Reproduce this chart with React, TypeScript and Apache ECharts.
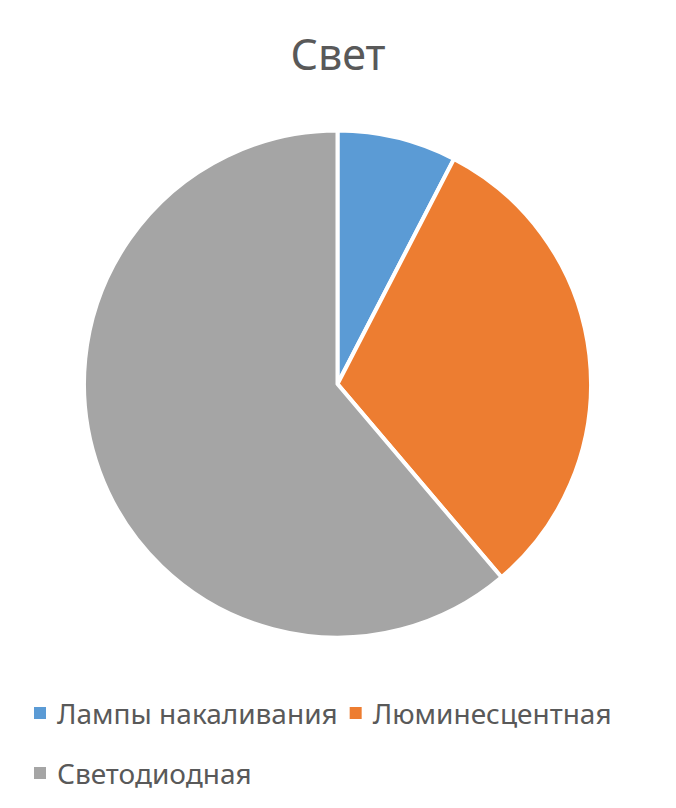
import React, { useEffect, useRef } from "react";
import * as echarts from "echarts";

const titleText = "Свет";
const categories = ["Лампы накаливания", "Люминесцентная", "Светодиодная"];
const values = [7.6, 31.2, 61.2];
const colors = ["#5B9BD5", "#ED7D31", "#A5A5A5"];

export default function App() {
  const ref = useRef<HTMLDivElement>(null);
  useEffect(() => {
    document.body.style.margin = "0";
    const chart = echarts.init(ref.current!, null, { renderer: "svg" });
    const font = "Noto Sans";
    const legendBase = {
      left: 34,
      padding: 0,
      orient: "horizontal",
      icon: "rect",
      itemWidth: 12,
      itemHeight: 12,
      itemGap: 12,
      itemStyle: { borderWidth: 0 },
      textStyle: { fontFamily: font, fontSize: 28, color: "#595959", padding: [0, 0, 0, 6] },
    };
    chart.setOption({
      animation: false,
      backgroundColor: "#ffffff",
      title: {
        text: titleText,
        left: "center",
        top: 27,
        textStyle: { fontFamily: font, fontSize: 43, fontWeight: "normal", color: "#595959" },
      },
      legend: [
        { ...legendBase, data: categories.slice(0, 2), top: 699 },
        { ...legendBase, data: categories.slice(2), top: 759 },
      ],
      series: [
        {
          type: "pie",
          center: [337.5, 384],
          radius: 253.5,
          startAngle: 90,
          clockwise: true,
          label: { show: false },
          labelLine: { show: false },
          itemStyle: { borderColor: "#ffffff", borderWidth: 4 },
          emphasis: { disabled: true },
          data: categories.map((name, i) => ({
            name,
            value: values[i],
            itemStyle: { color: colors[i] },
          })),
        },
      ],
    });
    return () => chart.dispose();
  }, []);
  return <div ref={ref} style={{ width: 676, height: 808 }} />;
}
